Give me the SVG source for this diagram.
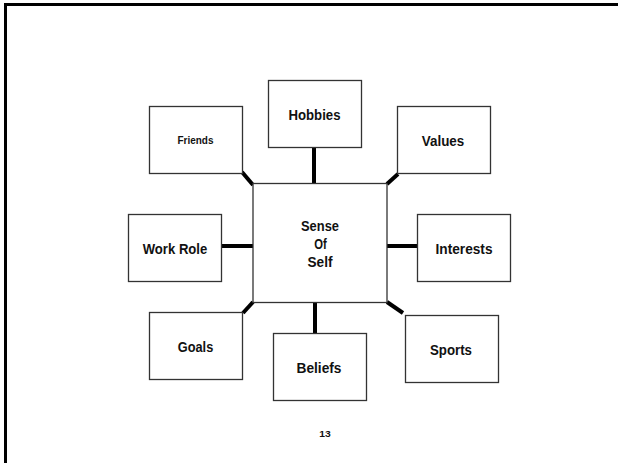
<svg xmlns="http://www.w3.org/2000/svg" width="618" height="463" viewBox="0 0 618 463">
  <style>
    .box { fill: #ffffff; stroke: #333333; stroke-width: 1.3; }
    .lbl { font-family: "Liberation Sans Narrow", "Liberation Sans", Arial, sans-serif; font-weight: bold; fill: #111111; text-anchor: middle; font-size: 15px; }
    .link { stroke: #000000; stroke-width: 4; fill: none; }
  </style>
  <rect width="618" height="463" fill="#ffffff"/>
  <!-- slide frame, running off the right and bottom edges -->
  <rect x="5.5" y="4.5" width="700" height="600" fill="none" stroke="#000000" stroke-width="3"/>

  <g id="connectors">
    <line class="link" x1="314" y1="147" x2="314" y2="183"/>
    <line class="link" x1="242" y1="172" x2="253" y2="185"/>
    <line class="link" x1="387" y1="184" x2="398" y2="174"/>
    <line class="link" x1="222" y1="246" x2="253" y2="246"/>
    <line class="link" x1="387" y1="246" x2="418" y2="246"/>
    <line class="link" x1="253" y1="302" x2="243" y2="313"/>
    <line class="link" x1="315" y1="302" x2="315" y2="333"/>
    <line class="link" x1="387" y1="302" x2="403" y2="313"/>
  </g>

  <g id="self">
    <rect class="box" x="253" y="183.5" width="134" height="119"/>
    <text class="lbl" x="320" y="231" textLength="38" lengthAdjust="spacingAndGlyphs">Sense</text>
    <text class="lbl" x="320.5" y="248.5" textLength="12.5" lengthAdjust="spacingAndGlyphs">Of</text>
    <text class="lbl" x="320" y="267" textLength="25" lengthAdjust="spacingAndGlyphs">Self</text>
  </g>
  <g id="hobbies">
    <rect class="box" x="268.5" y="80.5" width="93" height="67"/>
    <text class="lbl" x="314.5" y="119.5" textLength="52" lengthAdjust="spacingAndGlyphs">Hobbies</text>
  </g>
  <g id="friends">
    <rect class="box" x="149.5" y="106.5" width="93" height="67"/>
    <text class="lbl" style="font-size:10px" x="195.5" y="144" textLength="36" lengthAdjust="spacingAndGlyphs">Friends</text>
  </g>
  <g id="values">
    <rect class="box" x="397.5" y="106.5" width="93" height="67"/>
    <text class="lbl" x="443" y="146" textLength="42.5" lengthAdjust="spacingAndGlyphs">Values</text>
  </g>
  <g id="work-role">
    <rect class="box" x="128.5" y="214.5" width="93" height="67"/>
    <text class="lbl" x="175" y="254" textLength="64.5" lengthAdjust="spacingAndGlyphs">Work Role</text>
  </g>
  <g id="interests">
    <rect class="box" x="417.5" y="214.5" width="93" height="67"/>
    <text class="lbl" x="464" y="254" textLength="57" lengthAdjust="spacingAndGlyphs">Interests</text>
  </g>
  <g id="goals">
    <rect class="box" x="149.5" y="312.5" width="93" height="67"/>
    <text class="lbl" x="195.5" y="352" textLength="35.5" lengthAdjust="spacingAndGlyphs">Goals</text>
  </g>
  <g id="beliefs">
    <rect class="box" x="273.5" y="333.5" width="93" height="67"/>
    <text class="lbl" x="319" y="373" textLength="45" lengthAdjust="spacingAndGlyphs">Beliefs</text>
  </g>
  <g id="sports">
    <rect class="box" x="405.5" y="315.5" width="93" height="67"/>
    <text class="lbl" x="451" y="355" textLength="42" lengthAdjust="spacingAndGlyphs">Sports</text>
  </g>

  <text class="lbl" style="font-size:9px" x="325" y="437" fill="#222222" textLength="11.5" lengthAdjust="spacingAndGlyphs">13</text>
</svg>
